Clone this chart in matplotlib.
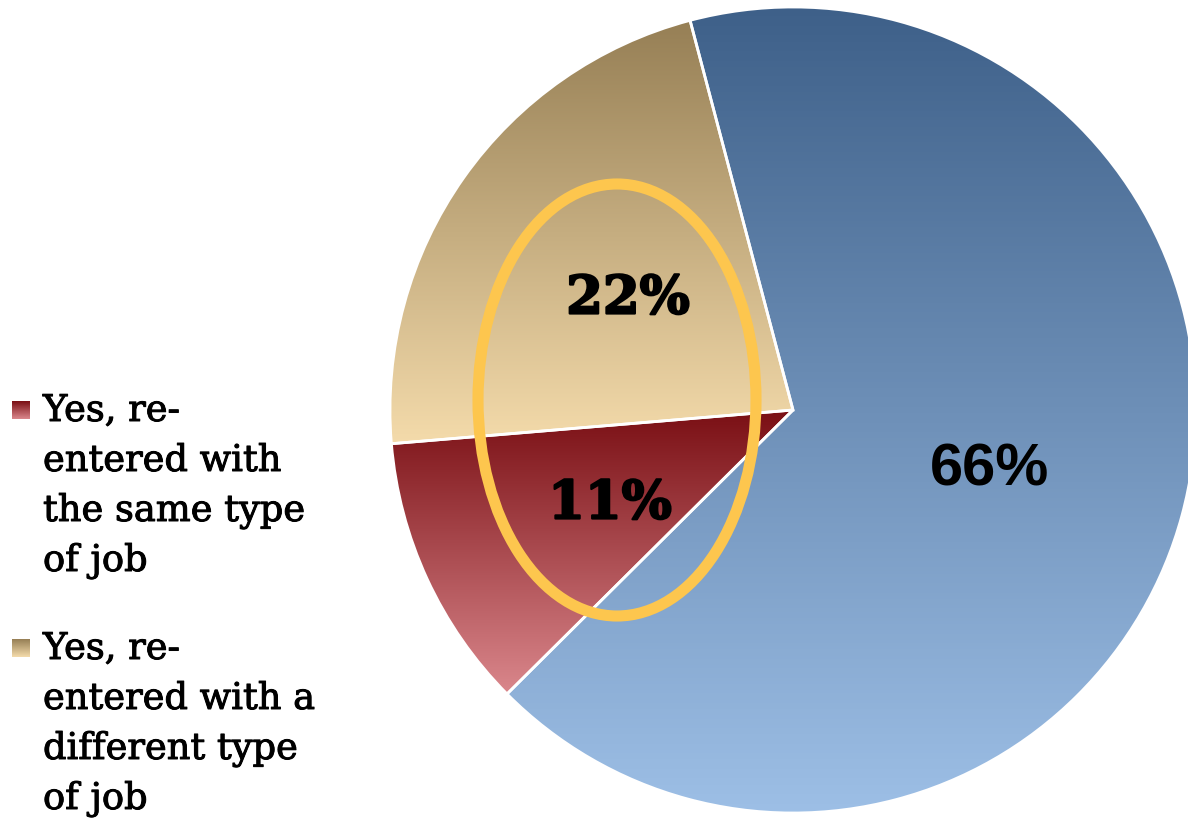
import numpy as np
import matplotlib
matplotlib.use('Agg')
import matplotlib.pyplot as plt
import matplotlib.patheffects as pe
from matplotlib.colors import LinearSegmentedColormap
from matplotlib.patches import Ellipse

# data
labels = ['No', 'Yes, re-entered with the same type of job',
          'Yes, re-entered with a different type of job']
values = [66, 11, 22]
pct_text = ['66%', '11%', '22%']
legend_lines = [['Yes, re-', 'entered with', 'the same type', 'of job'],
                ['Yes, re-', 'entered with a', 'different type', 'of job']]
# top colour, bottom colour of each slice gradient
grad = [('#3e6089', '#9dbfe6'), ('#7a0f14', '#da878c'), ('#967f55', '#f4dbab')]

W, H = 1188, 820
fig = plt.figure(figsize=(W / 100, H / 100), dpi=100)
ax = fig.add_axes([0, 0, 1, 1])

cx, cy, R = 793, H - 411, 403
wedges, _ = ax.pie(values, startangle=104.8, counterclock=False,
                   center=(cx, cy), radius=R, frame=True,
                   wedgeprops=dict(facecolor='none', edgecolor='white', linewidth=2))

for w, (c1, c2) in zip(wedges, grad):
    cm = LinearSegmentedColormap.from_list('g', [c2, c1])
    bb = w.get_path().get_extents(w.get_transform() - ax.transData)
    g = np.linspace(0, 1, 256).reshape(-1, 1)
    im = ax.imshow(g, cmap=cm, origin='lower', aspect='auto',
                   extent=[bb.x0, bb.x1, bb.y0, bb.y1], zorder=1)
    im.set_clip_path(w)
    w.set_zorder(2)

thick = [pe.withStroke(linewidth=1.6, foreground='black')]
# percent labels
ax.text(990, H - 470, pct_text[0], fontsize=43, fontweight='bold',
        family='Liberation Sans', ha='center', va='center', zorder=5)
ax.text(610, H - 505, pct_text[1], fontsize=38, fontweight='bold',
        family='DejaVu Serif', ha='center', va='center', zorder=5,
        path_effects=thick)
ax.text(628, H - 300, pct_text[2], fontsize=38, fontweight='bold',
        family='DejaVu Serif', ha='center', va='center', zorder=5,
        path_effects=thick)

# highlight ring
ax.add_patch(Ellipse((617, H - 401), 278, 432, fill=False,
                     edgecolor='#fdc64e', linewidth=8, zorder=4))

# legend (hand made, only the two "yes" entries)
for k, (lines, (c1, c2)) in enumerate(zip(legend_lines, grad[1:])):
    top = 402 + k * 238
    cm = LinearSegmentedColormap.from_list('g', [c2, c1])
    g = np.linspace(0, 1, 64).reshape(-1, 1)
    ax.imshow(g, cmap=cm, origin='lower', aspect='auto',
              extent=[12, 30, H - top - 18, H - top], zorder=3)
    for j, s in enumerate(lines):
        ax.text(43, H - (top + 20) - j * 50, s, fontsize=26.5,
                family='DejaVu Serif', ha='left', va='baseline', zorder=5,
                path_effects=[pe.withStroke(linewidth=0.7, foreground='black')])

ax.set_xlim(0, W)
ax.set_ylim(0, H)
ax.set_aspect('auto')
ax.axis('off')

fig.savefig('out.png', dpi=100, facecolor='white')
